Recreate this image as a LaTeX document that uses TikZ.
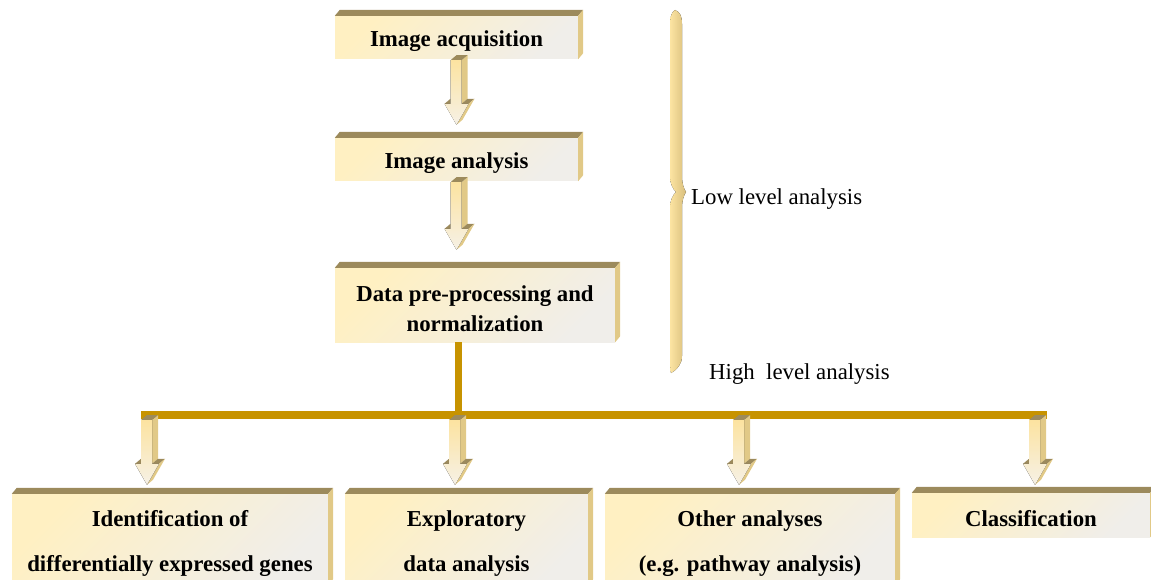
\documentclass[tikz,border=0pt]{standalone}
\usepackage{fontspec}
\setmainfont{Liberation Serif}
\usetikzlibrary{calc,positioning}
\definecolor{boxtop}{HTML}{9C8A5C}
\definecolor{boxside}{HTML}{E1C987}
\definecolor{facelight}{HTML}{FFF0C2}
\definecolor{facegray}{HTML}{F0EEEA}
\definecolor{bargold}{HTML}{C79300}
\definecolor{arrowlight}{HTML}{FCE3A0}
\definecolor{arrowpale}{HTML}{F6F1E6}
\definecolor{braceyellow}{HTML}{FCE4A2}
\definecolor{bracetan}{HTML}{D8BE7C}
\newcommand\lift{\rule{0pt}{24pt}}
\tikzset{
    stagebox/.style={
        rectangle,
        inner sep=0pt,
        top color=facelight,
        bottom color=facegray,
        shading angle=45,
        align=center,
        font=\fontsize{22.8}{30}\selectfont\bfseries
    },
    resultbox/.style={
        stagebox,
        minimum height=91pt,
        font=\fontsize{22.8}{45}\selectfont\bfseries
    },
    note/.style={inner sep=0pt, anchor=west, font=\fontsize{22.8}{27}\selectfont},
    bar/.style={draw=bargold, line width=8pt},
    stem/.style={draw=bargold, line width=7pt},
    arrowfront/.style={top color=arrowlight, bottom color=arrowpale},
    bracefill/.style={left color=braceyellow, right color=bracetan},
}
% top and right faces of a box
\newcommand\boxdepth[1]{%
    \fill[boxtop] (#1.north west) -- ++(5,6) -- ($(#1.north east)+(5,6)$) -- (#1.north east) -- cycle;
    \fill[boxside] (#1.north east) -- ++(5,6) -- ($(#1.south east)+(5,6)$) -- (#1.south east) -- cycle;
}
% 3d block arrow: start, target node, gap above target
\newcommand\blockarrow[3]{%
    \coordinate (ba-t) at ($(#1)+(0,-1)$);
    \coordinate (ba-e) at ($(ba-t |- #2)+(0,#3)$);
    \coordinate (ba-h) at ($(ba-e)+(0,21)$);
    \fill[boxside] ($(ba-t)+(5,0)$) -- ++(6,5) -- ($(ba-h)+(11,5)$) -- ($(ba-h)+(5,0)$) -- cycle;
    \fill[boxtop] ($(ba-t)+(-6,0)$) -- ($(ba-t)+(5,0)$) -- ++(6,5) -- ++(-11,0) -- cycle;
    \fill[boxtop] ($(ba-h)+(5,0)$) -- ++(6,5) -- ++(7,0) -- ($(ba-h)+(12,0)$) -- cycle;
    \fill[boxtop] ($(ba-h)+(-12,0)$) -- ($(ba-h)+(-6,5)$) -- ($(ba-h)+(-6,0)$) -- cycle;
    \fill[boxside] ($(ba-h)+(12,0)$) -- ++(6,5) -- ($(ba-e)+(6,5)$) -- (ba-e) -- cycle;
    \fill[arrowfront] ($(ba-t)+(-6,0)$) -- ($(ba-t)+(5,0)$) -- ($(ba-h)+(5,0)$) -- ($(ba-h)+(12,0)$)
        -- (ba-e) -- ($(ba-h)+(-12,0)$) -- ($(ba-h)+(-6,0)$) -- cycle;
}

\begin{document}
\begin{tikzpicture}[x=1pt, y=1pt]
\useasboundingbox (0,0) rectangle (1151,-580);
\clip (0,0) rectangle (1151,-580);

\node[stagebox, minimum width=243pt, minimum height=43pt] (acq) at (456.5,-37.5) {\lift Image acquisition};
\node[stagebox, minimum width=243pt, minimum height=43pt] (ana) at (456.5,-159.5) {\lift Image analysis};
\node[stagebox, minimum width=280pt, minimum height=74pt] (pre) at (475,-305) {\lift Data pre-processing and\\normalization};
\node[resultbox, minimum width=316pt] (ide) at (170,-539.5) {\lift Identification of\\differentially expressed genes};
\node[resultbox, minimum width=243pt] (exp) at (466.5,-539.5) {\lift Exploratory\\data analysis};
\node[resultbox, minimum width=290pt] (oth) at (750,-539.5) {\lift Other analyses\\(e.g. pathway analysis)};
\node[stagebox, minimum width=238pt, minimum height=44pt] (cls) at (1031,-515) {\lift Classification};
\foreach \b in {acq,ana,pre,ide,exp,oth,cls}{
    \boxdepth{\b}
}

\blockarrow{acq.south}{ana.north}{13}
\blockarrow{ana.south}{pre.north}{18}

% split bar
\coordinate (barL) at (141,-415);
\coordinate (barR) at (1047,-415);
\coordinate (split) at (458.5,-415);
\draw[stem] (pre.south -| split) -- (split);
\draw[bar] (barL) -- (barR);

\coordinate (b1) at (147,-419);
\coordinate (b2) at (455,-419);
\coordinate (b3) at (739,-419);
\coordinate (b4) at (1035,-419);
\blockarrow{b1}{ide.north}{9}
\blockarrow{b2}{exp.north}{9}
\blockarrow{b3}{oth.north}{9}
\blockarrow{b4}{cls.north}{8}

% brace
\fill[bracefill] (675,-10) .. controls (680,-12) and (682,-16) .. (682,-24) -- (682,-176)
    .. controls (682,-184) and (684,-189) .. (686,-192)
    .. controls (684,-195) and (682,-200) .. (682,-208) -- (682,-356)
    .. controls (682,-364) and (677,-370) .. (671,-373)
    .. controls (670,-368) and (670,-364) .. (670,-358) -- (670,-208)
    .. controls (670,-200) and (673,-195) .. (676,-192)
    .. controls (673,-189) and (670,-184) .. (670,-176) -- (670,-24)
    .. controls (670,-16) and (672,-12) .. (675,-10) -- cycle;
\node[note] (low) at (691,-199) {Low level analysis};
\node[note] (high) at (709,-374) {High\ \ level analysis};
\end{tikzpicture}
\end{document}
